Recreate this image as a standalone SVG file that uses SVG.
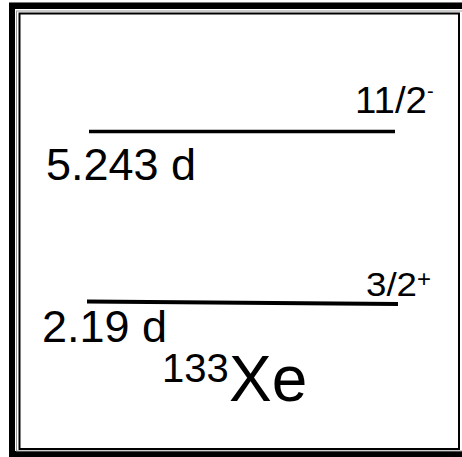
<svg xmlns="http://www.w3.org/2000/svg" width="462" height="457" viewBox="0 0 462 457">
<style>
text{font-family:"Liberation Sans",Arial,sans-serif;fill:#000}
.lvl{stroke:#000;fill:none}
</style>
<rect width="462" height="457" fill="#fff"/>
<g id="frame">
<rect x="12" y="6" width="456" height="448" fill="none" stroke="#000" stroke-width="6"/>
<line x1="9" y1="2.5" x2="462" y2="2.5" stroke="#777" stroke-width="1"/>
<rect x="16.5" y="11" width="446" height="440" fill="none" stroke="#999" stroke-width="1"/>
<rect x="19.5" y="13.5" width="439.5" height="435.5" fill="none" stroke="#000" stroke-width="2"/>
</g>
<g id="connectors"></g>
<g id="level-upper">
<line class="lvl" x1="89" y1="131.5" x2="395" y2="131.5" stroke-width="3.5"/>
<text x="355" y="113" font-size="37" textLength="72" lengthAdjust="spacingAndGlyphs">11/2</text>
<text x="427" y="98" font-size="20">-</text>
<text x="46" y="180" font-size="45">5.243 d</text>
</g>
<g id="level-lower">
<line class="lvl" x1="87" y1="301.5" x2="398" y2="304" stroke-width="4"/>
<text x="366" y="296" font-size="34" textLength="51" lengthAdjust="spacingAndGlyphs">3/2</text>
<text x="417" y="287" font-size="24">+</text>
<text x="42" y="342" font-size="45">2.19 d</text>
</g>
<g id="label">
<text x="162" y="382" font-size="40">133</text>
<text x="229" y="401" font-size="64">Xe</text>
</g>
</svg>
